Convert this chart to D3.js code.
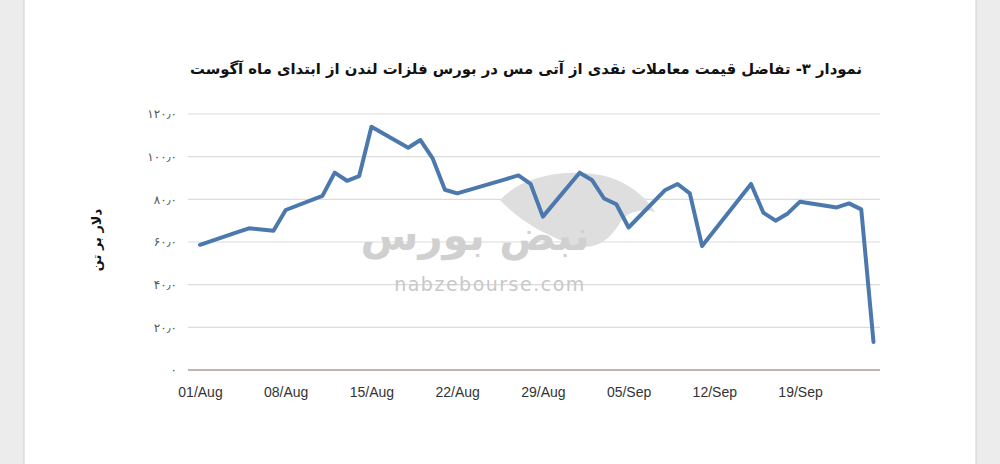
<!DOCTYPE html>
<html><head><meta charset="utf-8">
<script src="https://cdn.jsdelivr.net/npm/d3@7"></script>
<style>
html,body{margin:0;padding:0;background:#ececec;}
svg{display:block;}
</style></head>
<body>
<svg id="chart" width="1000" height="464"></svg>
<script>
// ---- data ----
const dates = ["2025-08-01","2025-08-04","2025-08-05","2025-08-06","2025-08-07","2025-08-08",
  "2025-08-11","2025-08-12","2025-08-13","2025-08-14","2025-08-15",
  "2025-08-18","2025-08-19","2025-08-20","2025-08-21","2025-08-22",
  "2025-08-26","2025-08-27","2025-08-28","2025-08-29",
  "2025-09-01","2025-09-02","2025-09-03","2025-09-04","2025-09-05",
  "2025-09-08","2025-09-09","2025-09-10","2025-09-11","2025-09-12",
  "2025-09-15","2025-09-16","2025-09-17","2025-09-18","2025-09-19",
  "2025-09-22","2025-09-23","2025-09-24","2025-09-25"];
const values = [58.7,64.5,66.4,65.9,65.3,75.0,
  81.6,92.5,88.7,90.9,114.0,
  104.2,107.8,99.2,84.5,82.8,
  89.5,91.2,87.2,71.9,
  92.5,89.1,80.4,77.7,66.8,
  84.4,87.2,82.8,58.1,65.4,
  87.2,73.8,70.0,73.4,78.9,
  76.2,78.1,75.3,13.1];
const xTickDates = ["2025-08-01","2025-08-08","2025-08-15","2025-08-22","2025-08-29","2025-09-05","2025-09-12","2025-09-19"];
const xTickLabels = ["01/Aug","08/Aug","15/Aug","22/Aug","29/Aug","05/Sep","12/Sep","19/Sep"];
const yTicks = [0,20,40,60,80,100,120];
const yTickLabels = ["۰","۲۰٫۰","۴۰٫۰","۶۰٫۰","۸۰٫۰","۱۰۰٫۰","۱۲۰٫۰"];
const title = "نمودار ۳- تفاضل قیمت معاملات نقدی از آتی مس در بورس فلزات لندن از ابتدای ماه آگوست";
const yTitle = "دلار بر تن";

// ---- layout ----
const svg = d3.select("#chart");
const parse = d3.utcParse("%Y-%m-%d");
const data = dates.map((d,i)=>({date:parse(d), value:values[i]}));

// page frame
svg.append("rect").attr("x",0).attr("y",0).attr("width",1000).attr("height",464).attr("fill","#ececec");
svg.append("rect").attr("x",24).attr("y",-2).attr("width",952).attr("height",470)
  .attr("fill","#ffffff").attr("stroke","#d0d0d0").attr("stroke-width",1);

const x = d3.scaleUtc().domain([parse("2025-08-01"), parse("2025-09-25")]).range([200, 873.5]);
const y = d3.scaleLinear().domain([0,120]).range([370,114]);
const plotLeft = 188, plotRight = 880;

// gridlines
svg.append("g").selectAll("line").data(yTicks.filter(v=>v>0)).join("line")
  .attr("x1",plotLeft).attr("x2",plotRight)
  .attr("y1",d=>y(d)).attr("y2",d=>y(d))
  .attr("stroke","#dcdcdc").attr("stroke-width",1.2);

// y labels
const yAxis = d3.axisLeft(y).tickValues(yTicks).tickSize(0).tickPadding(0)
  .tickFormat((d,i)=>yTickLabels[yTicks.indexOf(d)]);
const gy = svg.append("g").attr("transform","translate(177,0)").call(yAxis);
gy.select(".domain").remove();
gy.selectAll("text").attr("font-family","DejaVu Sans").attr("font-size",12).attr("fill","#555");

// x axis baseline
svg.append("line").attr("x1",plotLeft).attr("x2",plotRight).attr("y1",y(0)).attr("y2",y(0))
  .attr("stroke","#ab9f94").attr("stroke-width",1.5);

const xAxis = d3.axisBottom(x).tickValues(xTickDates.map(parse)).tickSize(0).tickPadding(0)
  .tickFormat((d,i)=>xTickLabels[i]);
const gx = svg.append("g").attr("transform",`translate(0,${y(0)+17})`).call(xAxis);
gx.select(".domain").remove();
gx.selectAll("text").attr("font-family","Liberation Sans").attr("font-size",14).attr("fill","#333").attr("dy","0.71em");

// watermark
const wm = svg.append("g");
wm.append("path")
  .attr("d","M500,200 C520,178 560,168 600,175 C625,180 645,195 655,212 C640,208 625,212 618,226 C605,246 588,252 565,242 C545,234 520,222 500,200 Z")
  .attr("fill","#dedede");
wm.append("text").attr("x",475).attr("y",250).attr("text-anchor","middle")
  .attr("font-family","DejaVu Sans").attr("font-weight","bold").attr("font-size",42)
  .attr("fill","#d0d0d0").attr("direction","rtl").text("نبض بورس");
wm.append("text").attr("x",490).attr("y",291).attr("text-anchor","middle")
  .attr("font-family","DejaVu Sans").attr("font-size",19).attr("letter-spacing",1.5)
  .attr("fill","#c8c8c8").text("nabzebourse.com");

// line
const line = d3.line().x(d=>x(d.date)).y(d=>y(d.value));
svg.append("path").datum(data).attr("d",line).attr("fill","none")
  .attr("stroke","#4c79ad").attr("stroke-width",4).attr("stroke-linejoin","round").attr("stroke-linecap","round");

// title
svg.append("text").attr("x",526).attr("y",74).attr("text-anchor","middle")
  .attr("font-family","DejaVu Sans").attr("font-weight","bold").attr("font-size",15)
  .attr("textLength",672).attr("lengthAdjust","spacingAndGlyphs")
  .attr("fill","#111").attr("direction","rtl").text(title);

// y title
svg.append("text").attr("transform","translate(101,240) rotate(-90)").attr("text-anchor","middle")
  .attr("font-family","DejaVu Sans").attr("font-weight","bold").attr("font-size",13)
  .attr("fill","#111").attr("direction","rtl").text(yTitle);
</script>
</body></html>
